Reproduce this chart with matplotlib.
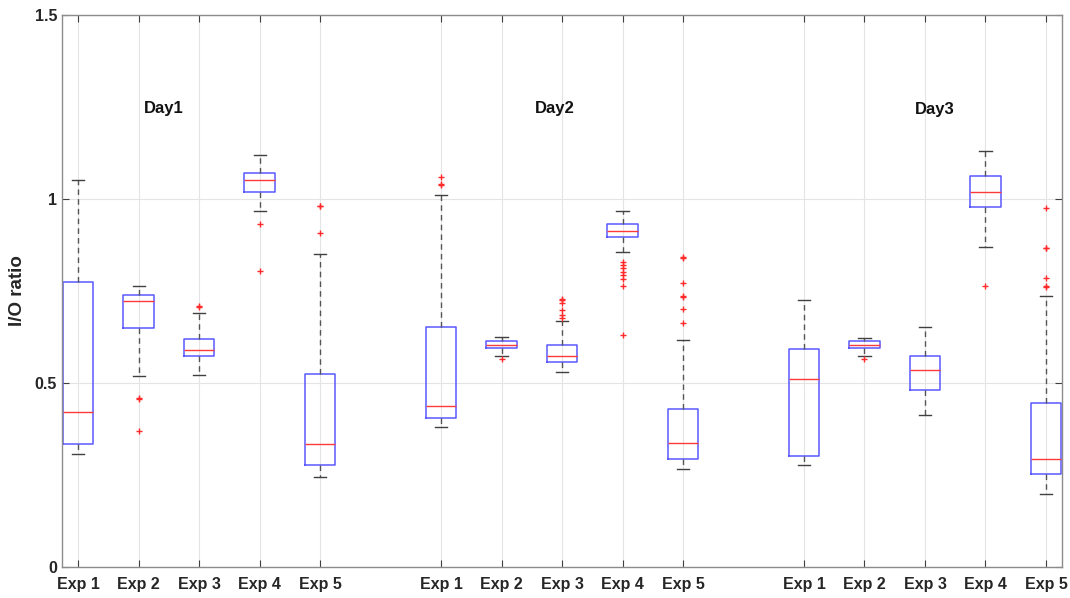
import matplotlib.pyplot as plt

plt.rcParams['font.family'] = ['Liberation Sans', 'DejaVu Sans']

days = ["Day1", "Day2", "Day3"]
exps = ["Exp 1", "Exp 2", "Exp 3", "Exp 4", "Exp 5"]

# one entry per box: Day1 Exp1..5, Day2 Exp1..5, Day3 Exp1..5
whis_lo = [0.308, 0.520, 0.522, 0.967, 0.244,
           0.380, 0.574, 0.530, 0.855, 0.266,
           0.277, 0.574, 0.414, 0.870, 0.198]
q1 = [0.335, 0.649, 0.572, 1.020, 0.277,
      0.404, 0.595, 0.558, 0.897, 0.293,
      0.302, 0.595, 0.481, 0.978, 0.253]
med = [0.422, 0.723, 0.590, 1.051, 0.334,
       0.437, 0.603, 0.574, 0.914, 0.336,
       0.511, 0.603, 0.534, 1.020, 0.294]
q3 = [0.775, 0.739, 0.619, 1.071, 0.524,
      0.651, 0.613, 0.603, 0.933, 0.429,
      0.593, 0.613, 0.574, 1.061, 0.446]
whis_hi = [1.052, 0.763, 0.689, 1.120, 0.851,
           1.010, 0.624, 0.668, 0.966, 0.617,
           0.726, 0.623, 0.652, 1.130, 0.737]
outliers = [
    [],
    [0.455, 0.458, 0.368],
    [0.706, 0.709],
    [0.933, 0.804],
    [0.982, 0.980, 0.907],
    [1.060, 1.041, 1.039],
    [0.565],
    [0.728, 0.724, 0.718, 0.697, 0.685, 0.677],
    [0.828, 0.820, 0.811, 0.801, 0.792, 0.783, 0.763, 0.630],
    [0.840, 0.842, 0.771, 0.736, 0.733, 0.701, 0.662],
    [],
    [0.565],
    [],
    [0.764],
    [0.976, 0.866, 0.868, 0.784, 0.761, 0.763],
]

positions = [1, 2, 3, 4, 5, 7, 8, 9, 10, 11, 13, 14, 15, 16, 17]
day_label_x = [2.41, 8.88, 15.16]
day_label_y = [1.247, 1.247, 1.242]

stats = []
for i in range(len(positions)):
    stats.append(dict(whislo=whis_lo[i], q1=q1[i], med=med[i], q3=q3[i],
                      whishi=whis_hi[i], fliers=outliers[i]))

fig = plt.figure(figsize=(10.7, 5.98), dpi=100)
ax = fig.add_axes([0.058, 0.052, 0.9345, 0.923])

ax.bxp(stats, positions=positions, widths=0.5, capwidths=0.2,
       boxprops=dict(color='#5858ff', linewidth=1.1),
       medianprops=dict(color='#ff3a3a', linewidth=1.0),
       whiskerprops=dict(color='#555555', linewidth=1.0, linestyle=(0, (4, 3))),
       capprops=dict(color='#404040', linewidth=1.0),
       flierprops=dict(marker='+', markeredgecolor='#ff2a2a', markersize=5,
                       markeredgewidth=1.0, linestyle='none'))

ax.set_xlim(0.735, 17.265)
ax.set_ylim(0, 1.5)
ax.set_yticks([0, 0.5, 1, 1.5])
ax.set_yticklabels(["0", "0.5", "1", "1.5"])
ax.set_xticks(positions)
ax.set_xticklabels(exps * 3)

ax.grid(True, color='#e4e4e4', linewidth=0.8)
ax.set_axisbelow(True)
for s in ax.spines.values():
    s.set_color('#8c8c8c')
    s.set_linewidth(1.0)
ax.tick_params(direction='in', top=True, right=True, length=5,
               color='#404040', labelcolor='#262626')
ax.tick_params(axis='x', pad=7)
for lab in ax.get_xticklabels() + ax.get_yticklabels():
    lab.set_fontweight('bold')
    lab.set_fontsize(11.5)

ax.set_ylabel("I/O ratio", fontsize=13.5, fontweight='bold', color='#262626', labelpad=6)

for name, x, y in zip(days, day_label_x, day_label_y):
    ax.text(x, y, name, fontsize=12, fontweight='bold', ha='center', va='center',
            color='#111111')

fig.savefig("out.png", dpi=100)
